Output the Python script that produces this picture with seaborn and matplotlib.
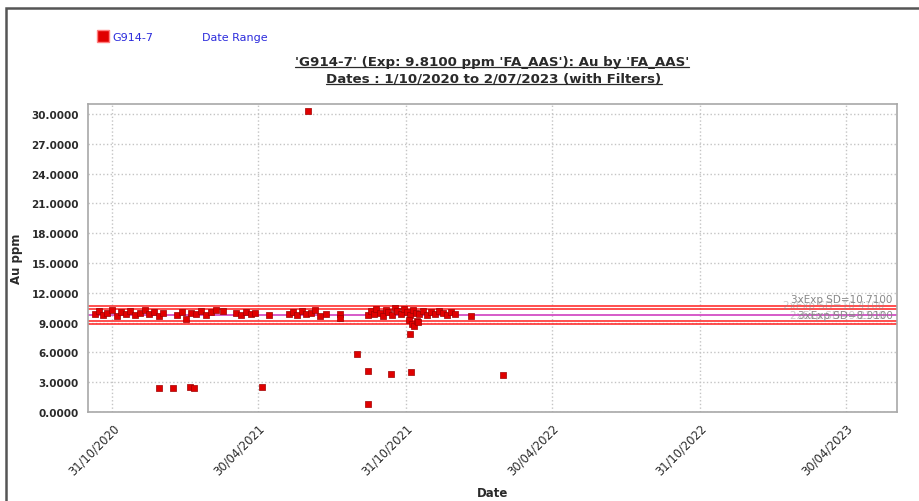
"""
plot.py
QC control chart for standard G914-7 (Au by FA_AAS), saved to out.png
"""
import pandas as pd
import matplotlib.pyplot as plt
import matplotlib.dates as mdates
import matplotlib.ticker as mticker
from matplotlib.lines import Line2D
from matplotlib.patches import Rectangle
import seaborn as sns

# ── data ────────────────────────────────────────────────────
sample_dates = [
    "2020-10-10", "2020-10-15", "2020-10-20", "2020-10-25", "2020-10-31", "2020-11-06",
    "2020-11-11", "2020-11-17", "2020-11-22", "2020-11-28", "2020-12-04", "2020-12-11",
    "2020-12-16", "2020-12-22", "2020-12-28", "2021-01-02",
    "2020-12-28", "2021-01-14", "2021-02-04", "2021-02-09",
    "2021-01-20", "2021-01-26", "2021-01-31", "2021-02-06", "2021-02-12", "2021-02-18",
    "2021-02-25", "2021-03-03", "2021-03-09", "2021-03-17",
    "2021-04-03", "2021-04-09", "2021-04-15", "2021-04-21", "2021-04-26",
    "2021-05-05", "2021-05-14",
    "2021-06-08", "2021-06-13", "2021-06-18", "2021-06-24", "2021-06-29", "2021-07-05",
    "2021-07-10", "2021-07-16", "2021-07-23",
    "2021-07-01", "2021-08-10", "2021-08-10", "2021-08-31", "2021-09-14", "2021-09-14",
    "2021-10-12", "2021-11-06", "2022-02-28", "2022-01-19",
    "2021-09-13", "2021-09-17", "2021-09-21", "2021-09-24", "2021-09-28", "2021-10-02",
    "2021-10-06", "2021-10-09", "2021-10-13", "2021-10-17", "2021-10-20", "2021-10-24",
    "2021-10-28", "2021-11-01", "2021-11-05", "2021-11-08", "2021-11-12", "2021-11-16",
    "2021-11-21", "2021-11-26", "2021-12-01", "2021-12-06", "2021-12-11", "2021-12-16",
    "2021-12-21", "2021-12-26", "2021-12-31",
    "2021-11-03", "2021-11-05", "2021-11-07", "2021-11-10", "2021-11-14", "2021-11-15",
]
au_ppm = [
    9.9, 10.2, 9.8, 10.0, 10.3, 9.7,
    10.1, 9.9, 10.2, 9.8, 10.0, 10.3,
    9.9, 10.1, 9.7, 10.0,
    2.45, 2.40, 2.50, 2.45,
    9.8, 10.1, 9.4, 10.0, 9.9, 10.2,
    9.8, 10.1, 10.3, 10.2,
    10.0, 9.8, 10.1, 9.9, 10.0,
    2.55, 9.8,
    9.9, 10.1, 9.8, 10.2, 9.9, 10.0,
    10.3, 9.7, 9.9,
    30.3, 9.9, 9.5, 5.85, 4.1, 0.85,
    3.85, 4.0, 3.75, 9.65,
    9.8, 10.2, 9.9, 10.4, 10.0, 9.7,
    10.3, 10.1, 9.8, 10.5, 10.2, 9.9,
    10.4, 10.1, 9.8, 10.3, 10.0, 9.9,
    10.2, 9.8, 10.1, 9.9, 10.2, 10.0,
    9.8, 10.1, 9.9,
    9.3, 7.9, 8.9, 8.7, 9.2, 9.1,
]
expected = 9.81
exp_sd = 0.30
limit_mult = [3, 2, -2, -3]
tick_dates = ["2020-10-31", "2021-04-30", "2021-10-31", "2022-04-30", "2022-10-31", "2023-04-30"]
y_ticks = [0, 3, 6, 9, 12, 15, 18, 21, 24, 27, 30]

df = pd.DataFrame({"Date": pd.to_datetime(sample_dates), "Au": au_ppm})

# ── style ───────────────────────────────────────────────────
sns.set_theme(style="white")
plt.rcParams.update({
    "font.family": ["DejaVu Sans"],
    "axes.edgecolor": "#a8a8a8",
    "axes.linewidth": 1.2,
})
RED = "#e00000"
BLUE = "#2b2bdc"
TXT = "#2a2a2a"

fig = plt.figure(figsize=(9.2, 5.02), dpi=100)
ax = fig.add_axes([0.0957, 0.177, 0.879, 0.614])

# control limits
ax.axhline(expected, color="#d040c0", lw=1.2, zorder=1)
for m in limit_mult:
    ax.axhline(expected + m * exp_sd, color="#ff3030", lw=1.4, alpha=0.85, zorder=1)

sns.scatterplot(data=df, x="Date", y="Au", ax=ax, marker="s", s=22,
                color=RED, edgecolor="#a00000", linewidth=0.5, zorder=3, legend=False)

# limit labels (they overlap in the original too)
lab_kw = dict(ha="right", fontsize=7.5, color="#888888", zorder=4,
              transform=ax.get_yaxis_transform())
ax.text(0.995, expected + 3 * exp_sd + 0.15, f"3xExp SD={expected + 3*exp_sd:.4f}", va="bottom", **lab_kw)
ax.text(0.985, expected + 2 * exp_sd - 0.15, f"2xExp SD={expected + 2*exp_sd:.4f}", va="bottom", alpha=0.45, **lab_kw)
ax.text(0.985, expected - 2 * exp_sd + 0.10, f"2xExp SD={expected - 2*exp_sd:.4f}", va="bottom", alpha=0.45, **lab_kw)
ax.text(0.995, expected - 3 * exp_sd + 0.35, f"3xExp SD={expected - 3*exp_sd:.4f}", va="bottom", **lab_kw)

# axes
ax.set_xlim(pd.Timestamp("2020-10-01"), pd.Timestamp("2023-07-02"))
ax.set_ylim(0, 31)
ax.set_xticks(pd.to_datetime(tick_dates))
ax.xaxis.set_major_formatter(mdates.DateFormatter("%d/%m/%Y"))
ax.set_yticks(y_ticks)
ax.yaxis.set_major_formatter(mticker.FormatStrFormatter("%.4f"))
ax.grid(True, color="#c4c4c4", linestyle=":", linewidth=1.0)
ax.tick_params(axis="both", which="major", length=3, color="#b0b0b0", colors=TXT)
ax.tick_params(axis="y", labelsize=7.5)
ax.tick_params(axis="x", labelsize=8.3)
for lab in ax.get_yticklabels():
    lab.set_fontweight("bold")
for lab in ax.get_xticklabels():
    lab.set_rotation(45)
    lab.set_ha("right")
    lab.set_rotation_mode("anchor")
ax.set_xlabel("Date", fontsize=8.5, fontweight="bold", color=TXT, labelpad=6)
ax.set_ylabel("Au ppm", fontsize=8.5, fontweight="bold", color=TXT, labelpad=6)

# legend
fig.legend(handles=[Line2D([], [], marker="s", ls="", color=RED, markersize=9,
                           markeredgecolor="#ff8080"),
                    Line2D([], [], ls="")],
           labels=["G914-7", "Date Range"], labelcolor=[BLUE, BLUE],
           loc="center left", bbox_to_anchor=(0.096, 0.925), ncol=2, frameon=False,
           fontsize=8, handlelength=0.9, handletextpad=0.4, columnspacing=3.0)

# title with underline
t1 = fig.text(0.535, 0.876, "'G914-7' (Exp: 9.8100 ppm 'FA_AAS'): Au by 'FA_AAS'",
              ha="center", va="center", fontsize=9.6, fontweight="bold", color=TXT)
t2 = fig.text(0.537, 0.842, "Dates : 1/10/2020 to 2/07/2023 (with Filters)",
              ha="center", va="center", fontsize=9.6, fontweight="bold", color=TXT)
fig.canvas.draw()
inv = fig.transFigure.inverted()
for t in (t1, t2):
    bb = t.get_window_extent()
    (x0, y0), (x1, _) = inv.transform([(bb.x0, bb.y0 + 1), (bb.x1, bb.y0 + 1)])
    fig.add_artist(Line2D([x0, x1], [y0, y0], color=TXT, lw=0.9, transform=fig.transFigure))

# outer frame
fig.add_artist(Rectangle((6 / 920, -0.05), 1.2, 1 - 9 / 502 + 0.05, transform=fig.transFigure,
                         fill=False, edgecolor="#555555", lw=1.8))

fig.savefig("out.png", dpi=100)
